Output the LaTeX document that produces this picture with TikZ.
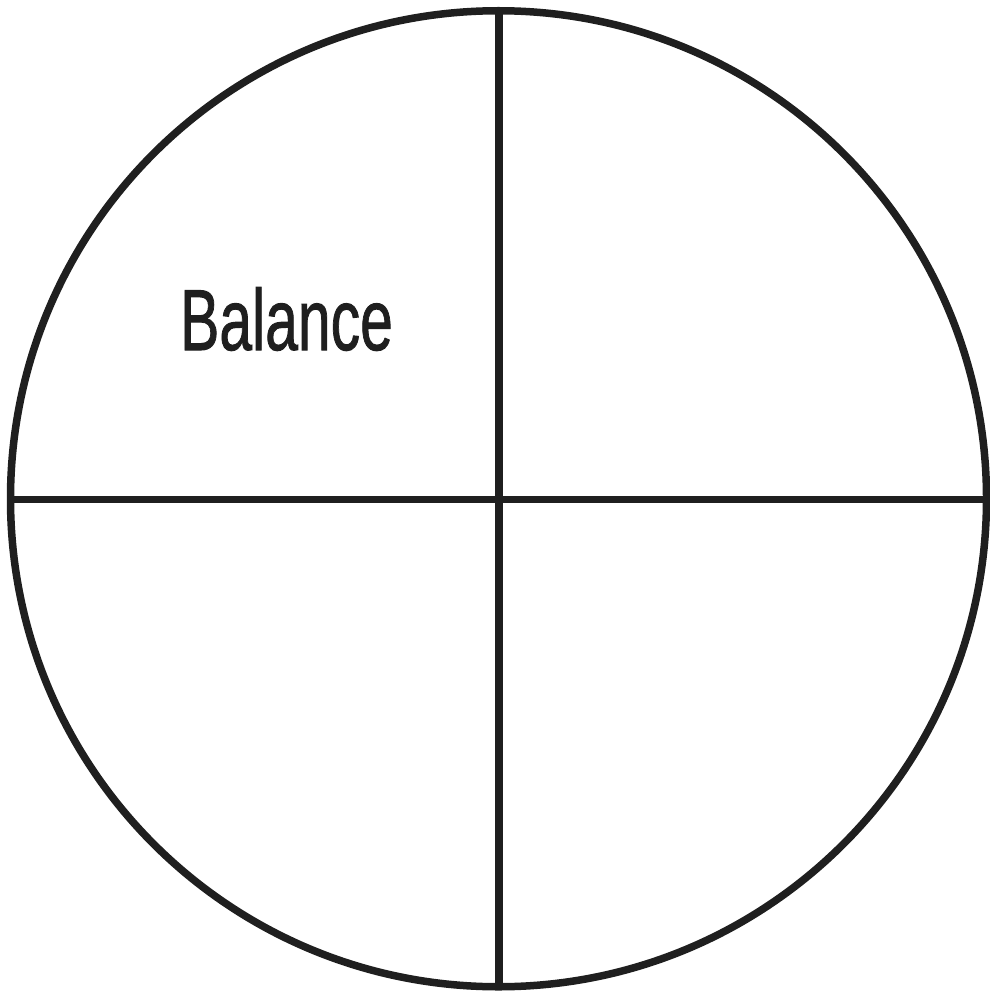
\documentclass[tikz,border=0pt]{standalone}
\usepackage{fontspec}
\setmainfont{Liberation Sans}
\newfontfamily\labelfont[FakeBold=1.2]{Liberation Sans}
\begin{document}
\begin{tikzpicture}[x=1pt,y=-1pt,
  lineink/.style={draw=black!88, line width=7.5pt},
  label/.style={inner sep=0pt, xscale=0.68, font=\labelfont\fontsize{86.6}{90}\selectfont, text=black!88}]
\useasboundingbox (0,0) rectangle (989,992);
\coordinate (c) at (498.5,498.75);
\coordinate (top) at (499,10.75);
\coordinate (bot) at (499,986.75);
\coordinate (lft) at (10.5,499.5);
\coordinate (rgt) at (986.5,499.5);
\draw[lineink] (c) circle[radius=488];
\draw[lineink] (top) -- (bot);
\draw[lineink] (lft) -- (rgt);
\node[label, anchor=base] (bal) at (286.5,350) {Balance};
\end{tikzpicture}
\end{document}
